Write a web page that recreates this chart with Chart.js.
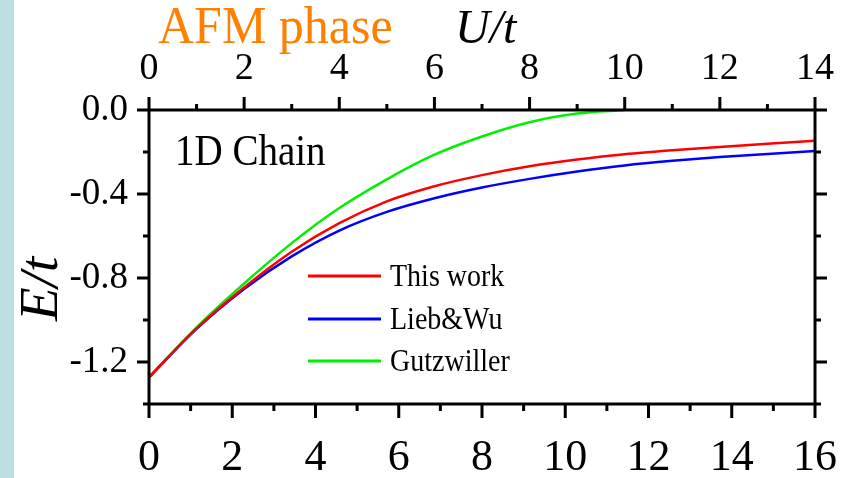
<!DOCTYPE html>
<html>
<head>
<meta charset="utf-8">
<script src="https://cdn.jsdelivr.net/npm/chart.js@4.4.1/dist/chart.umd.min.js"></script>
<style>
  body { margin: 0; background: #fff; }
  #wrap { position: relative; width: 847px; height: 478px; }
  #strip { position: absolute; left: 0; top: 0; width: 14px; height: 478px; background: #bde0e3; }
  #c { position: absolute; left: 0; top: 0; }
</style>
</head>
<body>
<div id="wrap">
  <div id="strip"></div>
  <canvas id="c" width="847" height="478"></canvas>
</div>
<script>
// U/t values (top axis) and ground state energies E/t
const uValues = [0, 1, 2, 3, 4, 5, 6, 7, 8, 9, 10, 11, 12, 13, 14];
const thisWork = [-1.273, -1.040, -0.845, -0.675, -0.539, -0.435, -0.363, -0.310, -0.268, -0.236, -0.211, -0.192, -0.176, -0.161, -0.147];
const liebWu = [-1.273, -1.042, -0.852, -0.697, -0.574, -0.485, -0.420, -0.369, -0.328, -0.293, -0.264, -0.242, -0.224, -0.209, -0.195];
const gutzU = [0, 1, 2, 3, 4, 5, 6, 7, 8, 9, 10];
const gutzwiller = [-1.273, -1.035, -0.826, -0.634, -0.467, -0.330, -0.213, -0.126, -0.058, -0.017, 0.0];

const topTicks = [0, 14];     // U/t range
const bottomTicks = [0, 16];  // lower axis range
const yRange = [-1.4, 0.0];

const serif = '"Liberation Serif", "Times New Roman", serif';

function pts(xs, ys) {
  return xs.map(function (x, i) { return { x: x, y: ys[i] }; });
}

function drawText(ctx, text, x, y, font, color, sy) {
  ctx.save();
  ctx.translate(x, y);
  ctx.scale(1, sy || 1);
  ctx.font = font;
  ctx.fillStyle = color;
  ctx.textAlign = 'left';
  ctx.textBaseline = 'alphabetic';
  ctx.fillText(text, 0, 0);
  ctx.restore();
}

// no extra room for overhanging tick labels
function fixSize(prop, size) {
  return function (s) {
    s[prop] = size;
    s.paddingLeft = 0; s.paddingRight = 0; s.paddingTop = 0; s.paddingBottom = 0;
  };
}

// frame, tick marks, labels and legend
const framePlugin = {
  id: 'frame',
  afterDraw: function (chart) {
    const ctx = chart.ctx;
    const a = chart.chartArea;
    const xs = chart.scales.x, x2 = chart.scales.x2, ys = chart.scales.y;
    ctx.save();
    ctx.strokeStyle = '#000';
    ctx.lineWidth = 3;
    ctx.lineCap = 'butt';
    ctx.strokeRect(a.left, a.top, a.right - a.left, a.bottom - a.top);

    ctx.beginPath();
    for (let i = 0; i <= 7; i++) {
      const v = -1.4 + i * 0.2;
      const py = ys.getPixelForValue(v);
      const len = (Math.round(v * 10) % 4 === 0) ? 12 : 6;
      ctx.moveTo(a.left - len, py); ctx.lineTo(a.left, py);
      ctx.moveTo(a.right, py); ctx.lineTo(a.right + len, py);
    }
    for (let u = topTicks[0]; u <= topTicks[1]; u++) {
      const px = xs.getPixelForValue(u);
      const len = (u % 2 === 0) ? 13 : 6;
      ctx.moveTo(px, a.top - len); ctx.lineTo(px, a.top);
    }
    for (let w = bottomTicks[0]; w <= bottomTicks[1]; w++) {
      const px = x2.getPixelForValue(w);
      const len = (w % 2 === 0) ? 14 : 7;
      ctx.moveTo(px, a.bottom); ctx.lineTo(px, a.bottom + len);
    }
    ctx.stroke();

    // headings
    drawText(ctx, 'AFM phase', 158, 43, '50px ' + serif, '#ff7f00', 1.05);
    drawText(ctx, 'U/t', 455, 43, 'italic 48px ' + serif, '#000', 1.0);
    drawText(ctx, '1D Chain', 175, 165, '39px ' + serif, '#000', 1.15);

    ctx.save();
    ctx.translate(57, 321);
    ctx.rotate(-Math.PI / 2);
    ctx.font = 'italic 55px ' + serif;
    ctx.fillStyle = '#000';
    ctx.fillText('E/t', 0, 0);
    ctx.restore();

    // legend
    const legY = [276, 319, 361];
    chart.data.datasets.forEach(function (ds, i) {
      ctx.beginPath();
      ctx.strokeStyle = ds.borderColor;
      ctx.lineWidth = 3;
      ctx.moveTo(308, legY[i]); ctx.lineTo(381, legY[i]);
      ctx.stroke();
      drawText(ctx, ds.label, 390, legY[i] + 10, '28px ' + serif, '#000', 1.15);
    });
    ctx.restore();
  }
};

const lineStyle = { borderWidth: 2.5, pointRadius: 0, fill: false, cubicInterpolationMode: 'monotone', xAxisID: 'x', yAxisID: 'y' };

new Chart(document.getElementById('c'), {
  type: 'line',
  data: {
    datasets: [
      Object.assign({ label: 'This work', data: pts(uValues, thisWork), borderColor: '#ff0000' }, lineStyle),
      Object.assign({ label: 'Lieb&Wu', data: pts(uValues, liebWu), borderColor: '#0000ff' }, lineStyle),
      Object.assign({ label: 'Gutzwiller', data: pts(gutzU, gutzwiller), borderColor: '#00f000' }, lineStyle)
    ]
  },
  options: {
    responsive: false,
    devicePixelRatio: 1,
    animation: false,
    layout: { padding: { left: 0, right: 32, top: 0, bottom: 0 } },
    plugins: { legend: { display: false }, tooltip: { enabled: false } },
    scales: {
      x: {
        type: 'linear', position: 'top', min: topTicks[0], max: topTicks[1],
        grid: { display: false }, border: { display: false },
        ticks: { stepSize: 2, padding: 10, color: '#000', font: { family: serif, size: 38 }, maxRotation: 0, autoSkip: false },
        afterFit: fixSize('height', 110)
      },
      x2: {
        type: 'linear', position: 'bottom', min: bottomTicks[0], max: bottomTicks[1],
        grid: { display: false }, border: { display: false },
        ticks: { stepSize: 2, padding: 20, color: '#000', font: { family: serif, size: 44 }, maxRotation: 0, autoSkip: false },
        afterFit: fixSize('height', 74)
      },
      y: {
        type: 'linear', position: 'left', min: yRange[0], max: yRange[1],
        grid: { display: false }, border: { display: false },
        ticks: {
          stepSize: 0.2, padding: 13, color: '#000', font: { family: serif, size: 37 }, autoSkip: false,
          callback: function (v) { return (Math.round(v * 10) % 4 === 0 && v > -1.35) ? v.toFixed(1) : ''; }
        },
        afterFit: fixSize('width', 149)
      }
    }
  },
  plugins: [framePlugin]
});
</script>
</body>
</html>
